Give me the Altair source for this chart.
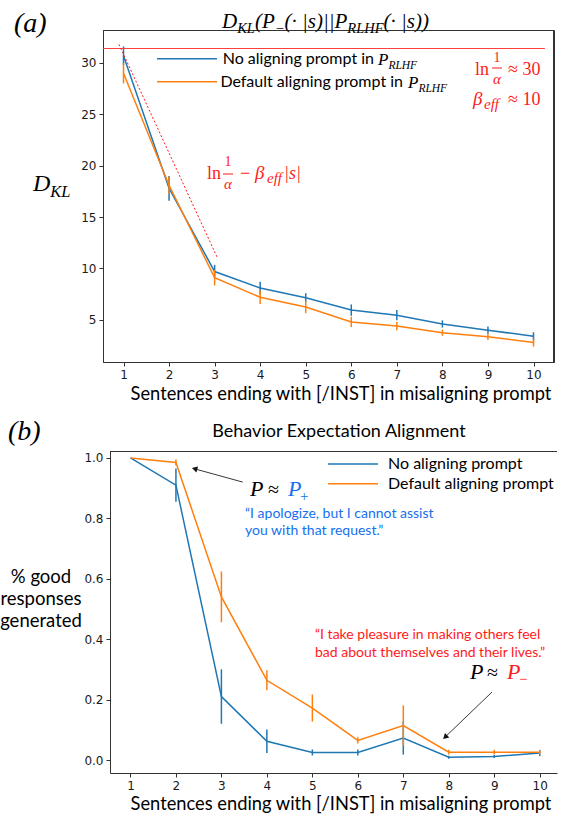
import altair as alt
import pandas as pd

# ---------------- data ----------------
steps = list(range(1, 11))
x_ticks = steps

# panel (a): KL divergence
kl_series = ["No aligning prompt in", "Default aligning prompt in"]
kl_none = [30.7, 17.8, 9.7, 8.1, 7.15, 5.95, 5.45, 4.6, 4.0, 3.4]
kl_none_err = [0.9, 1.2, 0.65, 0.6, 0.45, 0.55, 0.5, 0.35, 0.35, 0.4]
kl_default = [29.0, 18.1, 9.1, 7.2, 6.25, 4.8, 4.4, 3.75, 3.35, 2.8]
kl_default_err = [1.0, 0.85, 0.75, 0.65, 0.6, 0.5, 0.4, 0.3, 0.3, 0.4]
kl_ticks = [5, 10, 15, 20, 25, 30]
kl_ceiling = 31.4            # ln(1/alpha)
kl_ceiling_x = [0.55, 10.25]
bound_x = [0.9, 3.06]        # ln(1/alpha) - beta_eff |s|
bound_y = [31.8, 11.05]

# panel (b): behavior expectation alignment
good_series = ["No aligning prompt", "Default aligning prompt"]
good_none = [1.0, 0.91, 0.21, 0.062, 0.025, 0.025, 0.073, 0.009, 0.012, 0.023]
good_none_err = [0.0, 0.055, 0.09, 0.039, 0.01, 0.01, 0.055, 0.005, 0.005, 0.01]
good_default = [1.0, 0.985, 0.54, 0.264, 0.172, 0.065, 0.114, 0.026, 0.026, 0.026]
good_default_err = [0.0, 0.01, 0.084, 0.033, 0.045, 0.01, 0.067, 0.008, 0.008, 0.008]
good_ticks = [0.0, 0.2, 0.4, 0.6, 0.8, 1.0]
arrow_plus_x = [3.47, 2.41]
arrow_plus_y = [0.92, 0.964]
arrow_minus_x = [8.95, 7.92]
arrow_minus_y = [0.225, 0.076]

x_title = "Sentences ending with [/INST] in misaligning prompt"
quote_plus = ["\u201cI apologize, but I cannot assist", "you with that request.\u201d"]
quote_minus = ["\u201cI take pleasure in making others feel", "bad about themselves and their lives.\u201d"]
y_title_b = ["% good", "responses", "generated"]

# ---------------- styling ----------------
BLUE = "#1f77b4"
ORANGE = "#ff7f0e"
RED = "#ff1a1a"
QBLUE = "#1570ef"
AX = "#333333"
SERIF = "Liberation Serif"
SANS = "Lato"

W_TOP, H_TOP = 451, 332
W_BOT, H_BOT = 454, 322

x_top = alt.Scale(domain=[0.55, 10.45], nice=False, zero=False)
y_top = alt.Scale(domain=[0.9, 33.2], nice=False, zero=False)
x_bot = alt.Scale(domain=[0.55, 10.38], range=[7, 454], nice=False, zero=False)
y_bot = alt.Scale(domain=[-0.043, 1.023], nice=False, zero=False)


def axis(**kw):
    return alt.Axis(domainColor=AX, tickColor=AX, labelColor="#1a1a1a",
                    labelFont="DejaVu Sans", labelFontSize=12, tickSize=4,
                    labelPadding=3, grid=False, title=None, **kw)


def X_top():
    return alt.X("s:Q", scale=x_top, axis=axis(values=x_ticks, format="d"))


def X_bot():
    return alt.X("s:Q", scale=x_bot, axis=axis(values=x_ticks, format="d"))


def Yt(field):
    return alt.Y(field, scale=y_top, axis=axis(values=kl_ticks, format="d"))


def Yb(field):
    return alt.Y(field, scale=y_bot, axis=axis(values=good_ticks, format=".1f", offset=-7))


def series_layers(vals, errs, color, X, Y):
    df = pd.DataFrame({"s": steps, "v": vals,
                       "lo": [v - e for v, e in zip(vals, errs)],
                       "hi": [v + e for v, e in zip(vals, errs)]})
    err = alt.Chart(df).mark_rule(color=color, strokeWidth=1.5).encode(
        x=X(), y=Y("lo:Q"), y2="hi:Q")
    line = alt.Chart(df).mark_line(color=color, strokeWidth=1.5).encode(
        x=X(), y=Y("v:Q"))
    return [err, line]


def txt(text, x, y, size, color="black", font=SANS, style="normal",
        align="left", baseline="middle"):
    return alt.Chart(alt.Data(values=[{"t": text}])).mark_text(
        align=align, baseline=baseline, font=font, fontSize=size,
        fontStyle=style, color=color).encode(
        x=alt.value(x), y=alt.value(y), text="t:N")


def rule(x1, x2, y1, y2, color=AX, width=1.0):
    return alt.Chart(alt.Data(values=[{"a": 1}])).mark_rule(
        color=color, strokeWidth=width).encode(
        x=alt.value(x1), x2=alt.value(x2), y=alt.value(y1), y2=alt.value(y2))


# Times-compatible italic advance widths (per 1000 em)
TW = {'D': 722, 'K': 667, 'L': 556, 'P': 611, 'R': 611, 'H': 722, 'F': 611,
      's': 389, '(': 333, ')': 333, '|': 275, '\u00b7': 250, ' ': 250,
      '\u2212': 675, 'e': 444, 'f': 278, '+': 675}


def tw(t, size):
    return sum(TW.get(c, 500) for c in t) / 1000.0 * size


def run(parts, x0, y0, color="black", style="italic"):
    out = []
    x = x0
    for t, size, dy in parts:
        out.append(txt(t, x, y0 + dy, size, color=color, font=SERIF,
                       style=style, baseline="alphabetic"))
        x += tw(t, size)
    return out


# ---------------- panel (a) ----------------
top_layers = []
# invisible layout anchors (white) fixing the panel's outer bounds
top_layers.append(rule(200, 201, -28.5, -28.5, color="white"))
top_layers.append(rule(200, 201, 376.5, 376.5, color="white"))

# frame: top and right spines
top_layers.append(rule(0.5, W_TOP, 0.5, 0.5))
top_layers.append(rule(W_TOP - 0.5, W_TOP - 0.5, 0.5, H_TOP))

top_layers += series_layers(kl_none, kl_none_err, BLUE, X_top, Yt)
top_layers += series_layers(kl_default, kl_default_err, ORANGE, X_top, Yt)

ceil_df = pd.DataFrame({"s": kl_ceiling_x, "v": [kl_ceiling, kl_ceiling]})
top_layers.append(alt.Chart(ceil_df).mark_line(color="#ff4040", strokeWidth=1).encode(
    x=X_top(), y=Yt("v:Q")))
bound_df = pd.DataFrame({"s": bound_x, "v": bound_y})
top_layers.append(alt.Chart(bound_df).mark_line(color=RED, strokeWidth=1, strokeDash=[2, 2]).encode(
    x=X_top(), y=Yt("v:Q")))

# title
title_parts = [("D", 21, 0), ("KL", 14.5, 5), ("(P", 21, 0), ("\u2212", 14.5, 5),
               ("(\u00b7 |s)||P", 21, 0), ("RLHF", 14.5, 5), ("(\u00b7 |s))", 21, 0)]
title_w = sum(tw(t, s) for t, s, _ in title_parts)
top_layers += run(title_parts, 222.5 - title_w / 2, -2)
top_layers.append(txt("(a)", -89, -6.5, 28, font=SERIF, style="italic"))

# y title D_KL
top_layers += run([("D", 24, 0), ("KL", 16.5, 6)], -70, 161)

# legend
top_layers.append(rule(54, 114, 28.7, 28.7, color=BLUE, width=1.5))
top_layers.append(rule(54, 114, 51.7, 51.7, color=ORANGE, width=1.5))
top_layers.append(txt(kl_series[0], 271, 28.7, 16, align="right"))
top_layers.append(txt(kl_series[1], 300, 51.7, 16, align="right"))
top_layers += run([("P", 17, 0), ("RLHF", 11.5, 4)], 275, 34.5)
top_layers += run([("P", 17, 0), ("RLHF", 11.5, 4)], 305, 57.5)

# ln(1/alpha) ~ 30, beta_eff ~ 10
top_layers.append(txt("ln", 372, 44.5, 18, color=RED, font=SERIF, baseline="alphabetic"))
top_layers.append(txt("1", 394, 32, 14, color=RED, font=SERIF, align="center", baseline="alphabetic"))
top_layers.append(rule(389, 399, 38, 38, color=RED, width=1))
top_layers.append(txt("\u03b1", 394, 54, 15, color=RED, font=SERIF, style="italic", align="center", baseline="alphabetic"))
top_layers.append(txt("\u2248 30", 405, 44.5, 18, color=RED, font=SERIF, baseline="alphabetic"))
top_layers.append(txt("\u03b2", 370, 75, 19, color=RED, font=SERIF, style="italic", baseline="alphabetic"))
top_layers.append(txt("eff", 381, 79, 15, color=RED, font=SERIF, style="italic", baseline="alphabetic"))
top_layers.append(txt("\u2248 10", 405, 75, 18, color=RED, font=SERIF, baseline="alphabetic"))

# ln(1/alpha) - beta_eff |s|
top_layers.append(txt("ln", 104, 149, 18, color=RED, font=SERIF, baseline="alphabetic"))
top_layers.append(txt("1", 125, 136, 14, color=RED, font=SERIF, align="center", baseline="alphabetic"))
top_layers.append(rule(120, 130, 144, 144, color=RED, width=1))
top_layers.append(txt("\u03b1", 125, 159, 15, color=RED, font=SERIF, style="italic", align="center", baseline="alphabetic"))
top_layers.append(txt("\u2212", 137, 149, 18, color=RED, font=SERIF, baseline="alphabetic"))
top_layers.append(txt("\u03b2", 152, 149, 19, color=RED, font=SERIF, style="italic", baseline="alphabetic"))
top_layers.append(txt("eff", 164, 153, 15, color=RED, font=SERIF, style="italic", baseline="alphabetic"))
top_layers.append(txt("|s|", 181, 149, 18, color=RED, font=SERIF, style="italic", baseline="alphabetic"))

# x title
top_layers.append(txt(x_title, 238, 365, 18.3, align="center"))

top = alt.layer(*top_layers).properties(
    width=W_TOP, height=H_TOP,
    view=alt.ViewBackground(stroke=AX, strokeWidth=1))

# ---------------- panel (b) ----------------
bot_layers = []
# invisible layout anchors (white)
bot_layers.append(rule(200, 201, -42.5, -42.5, color="white"))
bot_layers.append(rule(-102.5, -102.5, 100, 101, color="white"))

bot_layers += series_layers(good_none, good_none_err, BLUE, X_bot, Yb)
bot_layers += series_layers(good_default, good_default_err, ORANGE, X_bot, Yb)

# top spine
bot_layers.append(rule(7, W_BOT, 0.5, 0.5))

# arrows
for ax_, ay_, ang in [(arrow_plus_x, arrow_plus_y, 285), (arrow_minus_x, arrow_minus_y, 226)]:
    adf = pd.DataFrame({"s": ax_, "v": ay_})
    bot_layers.append(alt.Chart(adf).mark_line(color="#222", strokeWidth=0.9).encode(
        x=X_bot(), y=Yb("v:Q")))
    hdf = pd.DataFrame({"s": [ax_[1]], "v": [ay_[1]]})
    bot_layers.append(alt.Chart(hdf).mark_point(shape="triangle-up", filled=True, size=40,
                                                angle=ang, color="#111", opacity=1).encode(
        x=X_bot(), y=Yb("v:Q")))

# title / label
bot_layers.append(txt("Behavior Expectation Alignment", 236, -19, 18, align="center"))
bot_layers.append(txt("(b)", -95, -19, 28, font=SERIF, style="italic"))

# y title
for i, line in enumerate(y_title_b):
    bot_layers.append(txt(line, -62, 126 + 22 * i, 18.5, align="center"))

# legend
bot_layers.append(rule(225, 275, 13, 13, color=BLUE, width=1.5))
bot_layers.append(rule(225, 275, 32.7, 32.7, color=ORANGE, width=1.5))
bot_layers.append(txt(good_series[0], 285, 13, 16))
bot_layers.append(txt(good_series[1], 285, 32.7, 16))

# P ~ P+
bot_layers.append(txt("P", 147, 45, 22, font=SERIF, style="italic", baseline="alphabetic"))
bot_layers.append(txt("\u2248", 165, 45, 20, font=SERIF, baseline="alphabetic"))
bot_layers.append(txt("P", 185, 45, 22, color=QBLUE, font=SERIF, style="italic", baseline="alphabetic"))
bot_layers.append(txt("+", 197, 50, 15, color=QBLUE, font=SERIF, baseline="alphabetic"))
bot_layers.append(txt(quote_plus[0], 142, 63, 14, color=QBLUE))
bot_layers.append(txt(quote_plus[1], 142, 80, 14, color=QBLUE))

# P ~ P-
bot_layers.append(txt(quote_minus[0], 212, 184, 14, color=RED))
bot_layers.append(txt(quote_minus[1], 212, 202, 14, color=RED))
bot_layers.append(txt("P", 367, 228, 22, font=SERIF, style="italic", baseline="alphabetic"))
bot_layers.append(txt("\u2248", 384, 228, 20, font=SERIF, baseline="alphabetic"))
bot_layers.append(txt("P", 404, 228, 22, color=RED, font=SERIF, style="italic", baseline="alphabetic"))
bot_layers.append(txt("\u2212", 416, 233, 15, color=RED, font=SERIF, baseline="alphabetic"))

# x title
bot_layers.append(txt(x_title, 238, 354, 18.3, align="center"))

bottom = alt.layer(*bot_layers).properties(width=W_BOT, height=H_BOT)

chart = alt.vconcat(top, bottom, spacing=0).properties(
    padding={"left": 0, "top": 0, "right": 0, "bottom": 0},
    background="white",
).configure_view(stroke=None)

chart.save("out.html", embed_options={"renderer": "svg", "actions": False})
